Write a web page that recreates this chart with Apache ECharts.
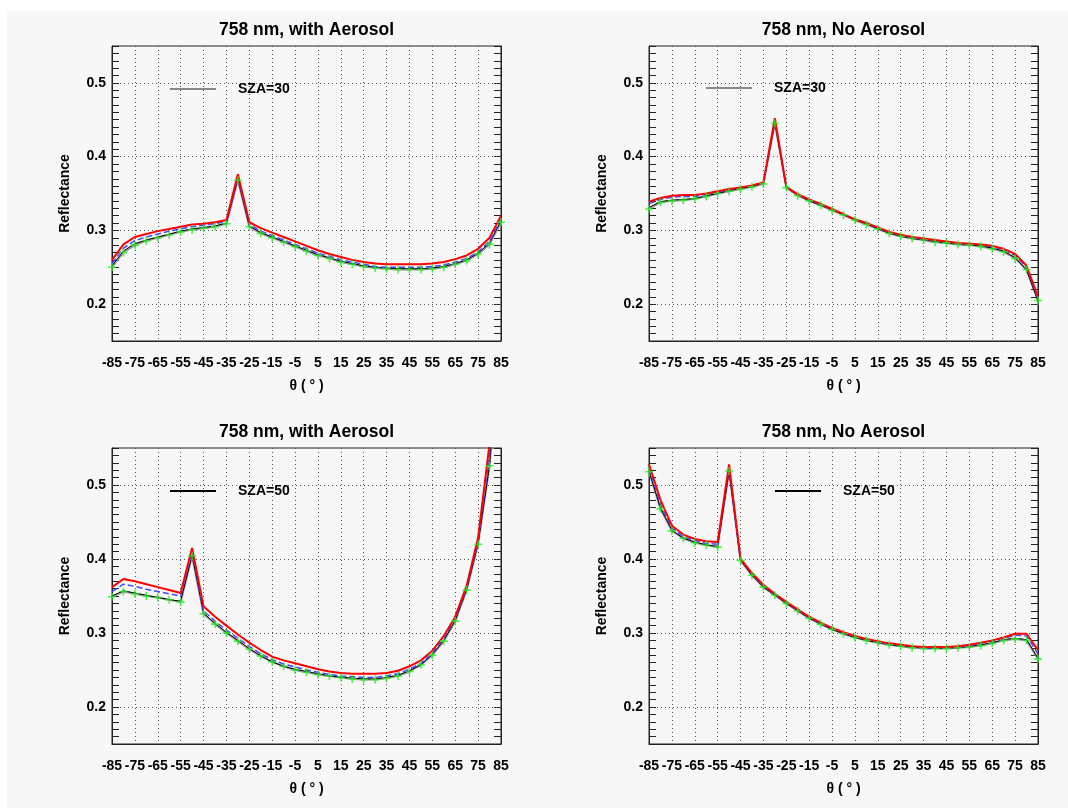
<!DOCTYPE html>
<html>
<head>
<meta charset="UTF-8">
<title>758 nm Reflectance</title>
<script src="https://cdn.jsdelivr.net/npm/echarts@6/dist/echarts.min.js"></script>
<style>
  html, body { margin: 0; padding: 0; background: #fff; }
  #main { width: 1068px; height: 810px; }
</style>
</head>
<body>
<div id="main"></div>
<script type="text/javascript">
// viewing angle (deg)
var thetas = [-85, -80, -75, -70, -65, -60, -55, -50, -45, -40, -35, -30, -25, -20, -15, -10, -5, 0,
              5, 10, 15, 20, 25, 30, 35, 40, 45, 50, 55, 60, 65, 70, 75, 80, 85];
var yLabelVals = [0.2, 0.3, 0.4, 0.5];

// SZA=30, with aerosol
var tlRed   = [0.260, 0.281, 0.291, 0.295, 0.299, 0.302, 0.305, 0.308, 0.309, 0.311, 0.314, 0.376, 0.311, 0.303, 0.297, 0.291, 0.285, 0.279, 0.273, 0.268, 0.264, 0.260, 0.257, 0.255, 0.254, 0.254, 0.254, 0.254, 0.255, 0.257, 0.261, 0.266, 0.275, 0.290, 0.320];
var tlBlue  = [0.255, 0.276, 0.286, 0.291, 0.295, 0.299, 0.302, 0.305, 0.307, 0.309, 0.312, 0.372, 0.308, 0.299, 0.293, 0.287, 0.281, 0.275, 0.269, 0.265, 0.260, 0.257, 0.254, 0.251, 0.250, 0.250, 0.250, 0.250, 0.251, 0.253, 0.257, 0.262, 0.271, 0.285, 0.315];
var tlBlack = [0.252, 0.272, 0.282, 0.287, 0.291, 0.295, 0.299, 0.302, 0.304, 0.306, 0.310, 0.370, 0.306, 0.297, 0.291, 0.285, 0.279, 0.273, 0.267, 0.263, 0.258, 0.255, 0.252, 0.250, 0.249, 0.248, 0.248, 0.248, 0.249, 0.251, 0.255, 0.260, 0.269, 0.283, 0.313];
var tlGray  = [0.250, 0.270, 0.280, 0.286, 0.290, 0.294, 0.298, 0.301, 0.303, 0.305, 0.309, 0.368, 0.305, 0.296, 0.290, 0.284, 0.278, 0.272, 0.266, 0.262, 0.257, 0.254, 0.251, 0.249, 0.248, 0.247, 0.247, 0.247, 0.248, 0.250, 0.254, 0.259, 0.268, 0.281, 0.311];

// SZA=30, no aerosol
var trRed   = [0.339, 0.344, 0.347, 0.348, 0.348, 0.350, 0.353, 0.356, 0.358, 0.361, 0.365, 0.452, 0.359, 0.349, 0.342, 0.336, 0.329, 0.322, 0.315, 0.310, 0.304, 0.298, 0.294, 0.291, 0.289, 0.287, 0.285, 0.283, 0.282, 0.281, 0.279, 0.275, 0.268, 0.252, 0.210];
var trBlue  = [0.336, 0.342, 0.345, 0.346, 0.346, 0.349, 0.352, 0.355, 0.358, 0.360, 0.365, 0.449, 0.359, 0.349, 0.341, 0.335, 0.329, 0.322, 0.315, 0.310, 0.303, 0.297, 0.293, 0.290, 0.288, 0.286, 0.284, 0.282, 0.281, 0.280, 0.278, 0.274, 0.266, 0.250, 0.207];
var trBlack = [0.331, 0.339, 0.341, 0.342, 0.343, 0.347, 0.350, 0.354, 0.357, 0.359, 0.364, 0.446, 0.358, 0.348, 0.340, 0.334, 0.328, 0.321, 0.314, 0.309, 0.302, 0.296, 0.292, 0.289, 0.287, 0.285, 0.283, 0.281, 0.280, 0.279, 0.276, 0.272, 0.263, 0.246, 0.204];
var trGray  = [0.329, 0.338, 0.340, 0.341, 0.343, 0.346, 0.350, 0.353, 0.356, 0.359, 0.363, 0.445, 0.358, 0.347, 0.340, 0.334, 0.327, 0.321, 0.314, 0.308, 0.302, 0.296, 0.292, 0.289, 0.287, 0.284, 0.283, 0.281, 0.280, 0.278, 0.275, 0.271, 0.262, 0.247, 0.205];

// SZA=50, with aerosol
var blRed   = [0.362, 0.373, 0.370, 0.366, 0.362, 0.358, 0.354, 0.415, 0.336, 0.322, 0.310, 0.298, 0.287, 0.277, 0.268, 0.263, 0.259, 0.255, 0.251, 0.248, 0.246, 0.245, 0.245, 0.245, 0.246, 0.249, 0.255, 0.263, 0.276, 0.296, 0.322, 0.364, 0.429, 0.556, 0.760];
var blBlue  = [0.356, 0.366, 0.363, 0.359, 0.356, 0.353, 0.350, 0.410, 0.330, 0.316, 0.304, 0.293, 0.282, 0.272, 0.264, 0.258, 0.254, 0.250, 0.247, 0.244, 0.242, 0.241, 0.240, 0.240, 0.242, 0.245, 0.251, 0.259, 0.273, 0.293, 0.319, 0.361, 0.424, 0.540, 0.730];
var blBlack = [0.350, 0.357, 0.354, 0.351, 0.348, 0.345, 0.343, 0.405, 0.327, 0.313, 0.301, 0.290, 0.279, 0.269, 0.261, 0.255, 0.251, 0.248, 0.245, 0.242, 0.240, 0.239, 0.238, 0.238, 0.240, 0.243, 0.249, 0.257, 0.271, 0.290, 0.317, 0.359, 0.421, 0.527, 0.720];
var blGray  = [0.349, 0.356, 0.353, 0.350, 0.348, 0.345, 0.342, 0.404, 0.326, 0.312, 0.300, 0.289, 0.278, 0.269, 0.261, 0.255, 0.250, 0.247, 0.244, 0.242, 0.240, 0.238, 0.237, 0.237, 0.239, 0.242, 0.248, 0.257, 0.270, 0.289, 0.316, 0.358, 0.420, 0.526, 0.720];

// SZA=50, no aerosol
var brRed   = [0.528, 0.480, 0.445, 0.433, 0.427, 0.424, 0.423, 0.528, 0.400, 0.381, 0.365, 0.353, 0.342, 0.332, 0.322, 0.314, 0.307, 0.301, 0.296, 0.292, 0.289, 0.286, 0.284, 0.282, 0.281, 0.281, 0.281, 0.282, 0.284, 0.287, 0.290, 0.294, 0.299, 0.299, 0.277];
var brBlue  = [0.523, 0.474, 0.442, 0.430, 0.425, 0.421, 0.420, 0.522, 0.399, 0.380, 0.364, 0.352, 0.341, 0.331, 0.321, 0.313, 0.306, 0.300, 0.295, 0.291, 0.288, 0.285, 0.283, 0.281, 0.280, 0.280, 0.280, 0.281, 0.283, 0.286, 0.289, 0.293, 0.297, 0.296, 0.272];
var brBlack = [0.519, 0.469, 0.439, 0.428, 0.423, 0.419, 0.417, 0.518, 0.398, 0.378, 0.362, 0.351, 0.340, 0.330, 0.320, 0.312, 0.305, 0.299, 0.294, 0.290, 0.287, 0.284, 0.282, 0.281, 0.280, 0.279, 0.280, 0.280, 0.282, 0.284, 0.287, 0.291, 0.293, 0.291, 0.266];
var brGray  = [0.518, 0.468, 0.438, 0.428, 0.422, 0.419, 0.416, 0.519, 0.398, 0.378, 0.362, 0.351, 0.340, 0.330, 0.320, 0.312, 0.305, 0.299, 0.294, 0.290, 0.287, 0.284, 0.282, 0.280, 0.279, 0.279, 0.279, 0.280, 0.281, 0.283, 0.286, 0.290, 0.292, 0.290, 0.265];

var panels = [
    {title: '758 nm, with Aerosol', sza: 'SZA=30', red: tlRed, blue: tlBlue, black: tlBlack, gray: tlGray,
     grid: {left: 112, top: 46, width: 389, height: 295}, titleTop: 21, legend: {left: 170, top: 82}},
    {title: '758 nm, No Aerosol', sza: 'SZA=30', red: trRed, blue: trBlue, black: trBlack, gray: trGray,
     grid: {left: 649, top: 46, width: 389, height: 295}, titleTop: 21, legend: {left: 706, top: 81}},
    {title: '758 nm, with Aerosol', sza: 'SZA=50', red: blRed, blue: blBlue, black: blBlack, gray: blGray,
     grid: {left: 112, top: 448, width: 389, height: 296}, titleTop: 423, legend: {left: 170, top: 484}},
    {title: '758 nm, No Aerosol', sza: 'SZA=50', red: brRed, blue: brBlue, black: brBlack, gray: brGray,
     grid: {left: 649, top: 448, width: 389, height: 296}, titleTop: 423, legend: {left: 775, top: 484}}
];

var plusPath = 'path://M0,4H10V6H0Z M4,0H6V10H4Z';
var boldText = {fontFamily: 'Liberation Sans, Arial, sans-serif', fontWeight: 'bold', fontSize: 14, color: '#000'};

var grids = [], xAxes = [], yAxes = [], titles = [], legends = [], series = [];

for (var i = 0; i < panels.length; i++) {
    var p = panels[i];
    var top30 = p.sza == 'SZA=30';
    grids.push({left: p.grid.left, top: p.grid.top, width: p.grid.width, height: p.grid.height,
        show: true, borderColor: '#222', borderWidth: 1, backgroundColor: 'transparent'});
    titles.push({text: p.title, left: p.grid.left + p.grid.width / 2, top: p.titleTop, textAlign: 'center', padding: 0,
        textStyle: {fontFamily: 'Liberation Sans, Arial, sans-serif', fontWeight: 'bold', fontSize: 17.5, color: '#000'}});
    legends.push({data: [p.sza], left: p.legend.left, top: p.legend.top, selectedMode: false, padding: 0,
        icon: 'rect', itemWidth: 46, itemHeight: 2,
        itemStyle: {color: top30 ? '#888' : '#000', borderWidth: 0},
        textStyle: {fontFamily: boldText.fontFamily, fontWeight: 'bold', fontSize: 14, color: '#000', padding: [0, 0, 10, 17]}});
    xAxes.push({gridIndex: i, type: 'category', data: thetas, boundaryGap: false,
        axisLine: {lineStyle: {color: '#222'}},
        axisTick: {show: false},
        axisLabel: Object.assign({interval: 1, margin: 15}, boldText),
        splitLine: {show: true, interval: 1, lineStyle: {type: [1, 3], color: '#555'}},
        name: 'θ ( ° )', nameLocation: 'middle', nameGap: 38, nameTextStyle: boldText});
    yAxes.push({gridIndex: i, type: 'value', min: 0.15, max: 0.55, interval: 0.01, position: 'left',
        axisLine: {show: true, lineStyle: {color: '#222'}},
        axisTick: {show: true, inside: true, length: 7, lineStyle: {color: '#222'}},
        axisLabel: Object.assign({margin: 6, formatter: function (v) {
            var r = Math.round(v * 100) / 100;
            return yLabelVals.indexOf(r) >= 0 ? r.toFixed(1) : '';
        }}, boldText),
        splitLine: {show: false},
        name: 'Reflectance', nameLocation: 'middle', nameGap: 40, nameTextStyle: boldText});
    yAxes.push({gridIndex: i, type: 'value', min: 0.15, max: 0.55, interval: 0.01, position: 'right',
        axisLine: {show: true, lineStyle: {color: '#222'}},
        axisTick: {show: true, inside: true, length: 7, lineStyle: {color: '#222'}},
        axisLabel: {show: false}, splitLine: {show: false}});

    var ys = i * 2;
    series.push({name: top30 ? p.sza : 'gray', type: 'line', xAxisIndex: i, yAxisIndex: ys, data: p.gray, z: 2,
        showSymbol: false, lineStyle: {color: '#999', width: 2}, itemStyle: {color: '#999'},
        markLine: {silent: true, symbol: 'none', z: 1, label: {show: false},
            lineStyle: {type: [1, 3], color: '#555', width: 1},
            data: yLabelVals.map(function (v) { return {yAxis: v}; })}});
    series.push({name: top30 ? 'black' : p.sza, type: 'line', xAxisIndex: i, yAxisIndex: ys, data: p.black, z: 3,
        showSymbol: false, lineStyle: {color: '#000', width: 1}, itemStyle: {color: '#000'}});
    series.push({name: 'blue', type: 'line', xAxisIndex: i, yAxisIndex: ys, data: p.blue, z: 4,
        showSymbol: false, lineStyle: {color: '#4646ff', width: 1.5, type: [6, 3]}});
    series.push({name: 'red', type: 'line', xAxisIndex: i, yAxisIndex: ys, data: p.red, z: 5,
        showSymbol: false, lineStyle: {color: '#ff0000', width: 2}});
    series.push({name: 'pts', type: 'scatter', xAxisIndex: i, yAxisIndex: ys, data: p.gray, z: 6,
        symbol: plusPath, symbolSize: 8, itemStyle: {color: '#22ee22'}});
}

var myChart = echarts.init(document.getElementById('main'), null, {renderer: 'canvas'});
var option = {
    backgroundColor: '#fff',
    animation: false,
    graphic: [{type: 'rect', z: -10, shape: {x: 7, y: 11, width: 1061, height: 797}, style: {fill: '#f7f7f7'}}],
    title: titles,
    legend: legends,
    grid: grids,
    xAxis: xAxes,
    yAxis: yAxes,
    series: series
};
myChart.setOption(option);
</script>
</body>
</html>
